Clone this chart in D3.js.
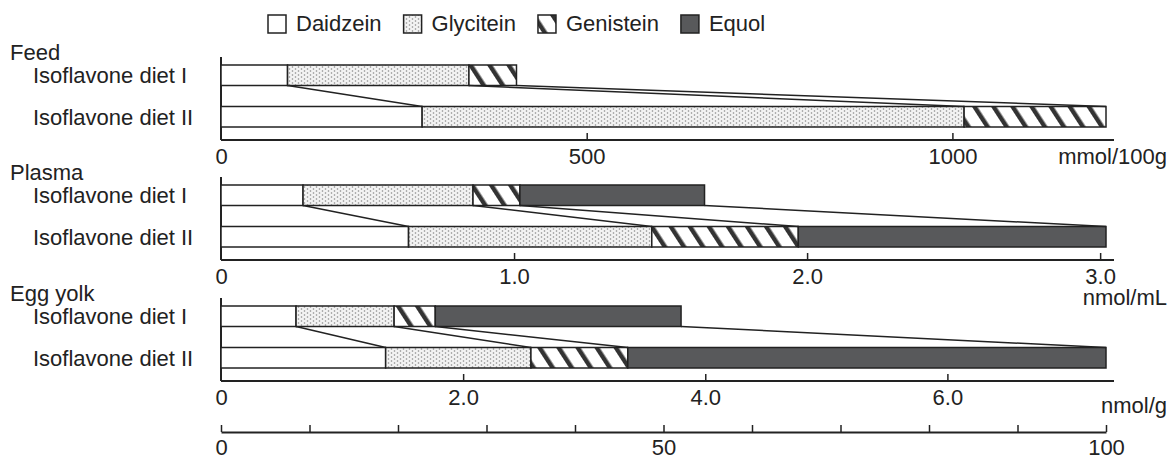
<!DOCTYPE html>
<html>
<head>
<meta charset="utf-8">
<script src="https://cdn.jsdelivr.net/npm/d3@7"></script>
<style>
  body { margin: 0; background: #fff; }
  svg text { font-family: "Liberation Sans", Arial, sans-serif; font-size: 22px; fill: #222; }
</style>
</head>
<body>
<div id="root"></div>
<script>
// data
const compounds = ["Daidzein", "Glycitein", "Genistein", "Equol"]
const diets = ["Isoflavone diet I", "Isoflavone diet II"]
const panelNames = ["Feed", "Plasma", "Egg yolk"]
const units = ["mmol/100g", "nmol/mL", "nmol/g"]

const feedDietI = [91, 248, 65, 0]
const feedDietII = [275, 741, 194, 0]
const plasmaDietI = [0.28, 0.58, 0.16, 0.63]
const plasmaDietII = [0.64, 0.83, 0.50, 1.05]
const eggDietI = [0.62, 0.81, 0.34, 2.03]
const eggDietII = [1.36, 1.20, 0.80, 3.95]

const feedTicks = [0, 500, 1000], feedTickLabels = ["0", "500", "1000"]
const plasmaTicks = [0, 1, 2, 3], plasmaTickLabels = ["0", "1.0", "2.0", "3.0"]
const eggTicks = [0, 2, 4, 6], eggTickLabels = ["0", "2.0", "4.0", "6.0"]
const pctTicks = [0, 10, 20, 30, 40, 50, 60, 70, 80, 90, 100]
const pctTickLabels = ["0", "", "", "", "", "50", "", "", "", "", "100"]

const w = 1169, h = 462
const x0 = 221, x1 = 1106

const fills = ["#fff", "url(#dots)", "url(#stripes)", "#58595b"]

const svg = d3.select("#root").append("svg")
    .attr("width", w)
    .attr("height", h)

// patterns
const defs = svg.append("defs")
const dots = defs.append("pattern").attr("id", "dots")
    .attr("patternUnits", "userSpaceOnUse").attr("width", 6).attr("height", 4)
dots.append("rect").attr("width", 6).attr("height", 4).attr("fill", "#f3f3f3")
dots.append("circle").attr("cx", 1.5).attr("cy", 1).attr("r", 0.8).attr("fill", "#8a8a8a")
dots.append("circle").attr("cx", 4.5).attr("cy", 3).attr("r", 0.8).attr("fill", "#8a8a8a")

const stripes = defs.append("pattern").attr("id", "stripes")
    .attr("patternUnits", "userSpaceOnUse").attr("width", 16).attr("height", 16)
    .attr("patternTransform", "rotate(-33)")
stripes.append("rect").attr("width", 16).attr("height", 16).attr("fill", "#fff")
stripes.append("rect").attr("x", 5).attr("width", 4.5).attr("height", 16).attr("fill", "#333")

// legend
const legend = svg.append("g").attr("class", "legend")
let lx = 268
compounds.forEach((c, i) => {
    legend.append("rect")
        .attr("x", lx).attr("y", 15)
        .attr("width", 18).attr("height", 18)
        .attr("fill", fills[i])
        .attr("stroke", "#222").attr("stroke-width", 1.5)
    const t = legend.append("text")
        .attr("x", lx + 28).attr("y", 31)
        .text(c)
    lx += 28 + t.node().getComputedTextLength() + 22
})

const panels = [
    {name: panelNames[0], unit: units[0], rows: [feedDietI, feedDietII], ticks: feedTicks, labels: feedTickLabels, top: 65, unitDy: 24},
    {name: panelNames[1], unit: units[1], rows: [plasmaDietI, plasmaDietII], ticks: plasmaTicks, labels: plasmaTickLabels, top: 185, unitDy: 45},
    {name: panelNames[2], unit: units[2], rows: [eggDietI, eggDietII], ticks: eggTicks, labels: eggTickLabels, top: 306, unitDy: 32}
]

function drawPanel(p) {
    const g = svg.append("g")
    const total = d3.sum(p.rows[1])
    // diet II total is the full width (100%)
    const x = d3.scaleLinear().domain([0, total]).range([x0, x1])
    const y = d3.scaleBand().domain(diets).range([p.top, p.top + 62]).paddingInner(0.506)
    const base = p.top + 75

    g.append("text").attr("x", 10).attr("y", p.top - 5).text(p.name)

    // axis
    g.append("line")
        .attr("x1", x0).attr("x2", x0).attr("y1", p.top - 8).attr("y2", base)
        .attr("stroke", "#222").attr("stroke-width", 2)
    g.append("line")
        .attr("x1", x0).attr("x2", x1 + 8).attr("y1", base).attr("y2", base)
        .attr("stroke", "#222").attr("stroke-width", 2)
    const ax = g.append("g").attr("transform", `translate(0,${base})`)
        .call(d3.axisBottom(x).tickValues(p.ticks).tickFormat((d, i) => p.labels[i])
            .tickSizeInner(-7).tickSizeOuter(0).tickPadding(8))
    ax.select(".domain").remove()
    ax.selectAll(".tick line").attr("stroke", "#222").attr("stroke-width", 1.5)
    ax.selectAll(".tick text").attr("font-size", null).attr("font-family", null).attr("fill", null)
    ax.selectAll(".tick").filter(d => d === 0).select("line").remove()

    g.append("text").attr("x", w - 2).attr("y", base + p.unitDy)
        .attr("text-anchor", "end").text(p.unit)

    // stacked bars
    const stacked = p.rows.map((row, r) => {
        let acc = 0
        return row.map((v, i) => {
            const s = {diet: diets[r], i: i, x0: acc, x1: acc + v}
            acc += v
            return s
        }).filter(d => d.x1 > d.x0)
    })

    stacked.forEach((segs, r) => {
        g.append("text").attr("x", 33).attr("y", y(diets[r]) + y.bandwidth() / 2 + 8).text(diets[r])
        g.selectAll("rect.seg" + r).data(segs).enter().append("rect")
            .attr("class", "seg" + r)
            .attr("x", d => x(d.x0))
            .attr("y", y(diets[r]))
            .attr("width", d => x(d.x1) - x(d.x0))
            .attr("height", y.bandwidth())
            .attr("fill", d => fills[d.i])
            .attr("stroke", "#222").attr("stroke-width", 1.5)
    })

    // connector lines between matching boundaries
    const links = stacked[0].map(d => ({a: d.x1, b: (stacked[1].find(e => e.i === d.i) || {}).x1}))
        .filter(d => d.b !== undefined)
    g.selectAll("line.link").data(links).enter().append("line")
        .attr("class", "link")
        .attr("x1", d => x(d.a)).attr("y1", y(diets[0]) + y.bandwidth())
        .attr("x2", d => x(d.b)).attr("y2", y(diets[1]))
        .attr("stroke", "#222").attr("stroke-width", 1.5)
}

panels.forEach(drawPanel)

// common percentage axis
const pct = d3.scaleLinear().domain([0, 100]).range([x0, x1])
const pax = svg.append("g").attr("transform", "translate(0,432)")
    .call(d3.axisBottom(pct).tickValues(pctTicks).tickFormat((d, i) => pctTickLabels[i])
        .tickSizeInner(-7).tickSizeOuter(0).tickPadding(7))
pax.select(".domain").attr("stroke", "#222").attr("stroke-width", 2)
pax.selectAll(".tick line").attr("stroke", "#222").attr("stroke-width", 1.5)
pax.selectAll(".tick text").attr("font-size", null).attr("font-family", null).attr("fill", null)
</script>
</body>
</html>
